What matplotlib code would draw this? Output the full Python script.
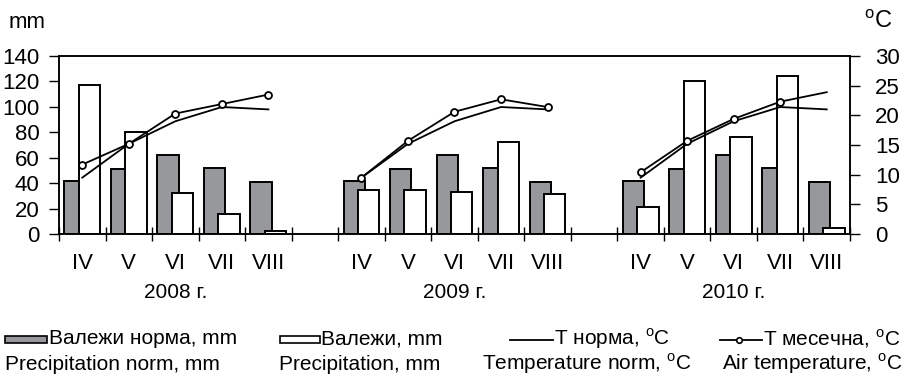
import numpy as np
import matplotlib
matplotlib.use("Agg")
import matplotlib.pyplot as plt
from matplotlib.patches import Rectangle
from matplotlib.lines import Line2D

plt.rcParams['font.family'] = ['Liberation Sans', 'DejaVu Sans']

# data
years = ['2008 г.', '2009 г.', '2010 г.']
months = ['IV', 'V', 'VI', 'VII', 'VIII']
prec_norm = [42, 51, 62, 52, 41]
prec = {
    '2008 г.': [117, 80, 32, 15.5, 2.5],
    '2009 г.': [35, 35, 33, 72.5, 31.5],
    '2010 г.': [21.5, 120, 76.5, 124.5, 4.7],
}
t_norm = [9.5, 15.2, 19.0, 21.4, 21.0]
t_month = {
    '2008 г.': [11.7, 15.2, 20.3, 21.9, 23.5],
    '2009 г.': [9.5, 15.7, 20.6, 22.7, 21.4],
    '2010 г.': [10.4, 15.7, 19.4, 22.3, 23.9],
}
mm_ticks = np.arange(0, 141, 20)
t_ticks = np.arange(0, 31, 5)

gray = '#97989b'
W, H = 915, 376
fig = plt.figure(figsize=(W / 100, H / 100), dpi=100)
ax = fig.add_axes([59 / W, 1 - 234 / H, (850 - 59) / W, (234 - 56) / H])
ax2 = ax.twinx()

bw = 0.46
centers = []
for k, y in enumerate(years):
    x = np.arange(5) + 6 * k + 0.5
    centers += list(x)
    ax.bar(x - 0.155, prec_norm, bw, color=gray, edgecolor='black', linewidth=1.4, zorder=2)
    ax.bar(x + 0.155, prec[y], bw, color='white', edgecolor='black', linewidth=1.4, zorder=3)
    ax2.plot(x, t_norm, color='black', lw=1.3)
    mk = [0, 1, 2, 3] if k == 2 else None
    ax2.plot(x, t_month[y], color='black', lw=1.3, marker='o', ms=5,
             mfc='white', mec='black', mew=1.3, markevery=mk)
    ax.text(x[2], -59 / 178, y, transform=ax.get_xaxis_transform(),
            ha='center', va='center', fontsize=15)

ax.set_xlim(0, 17)
ax.set_ylim(0, 140)
ax2.set_ylim(0, 30)
ax.set_yticks(mm_ticks)
ax2.set_yticks(t_ticks)
ax.set_xticks(np.arange(0, 18))
ax.set_xticklabels([])
ax.set_xticks(centers, minor=True)
ax.set_xticklabels(months * 3, minor=True, fontsize=16)
ax.tick_params(axis='x', which='major', direction='inout', length=10, width=1)
ax.tick_params(axis='x', which='minor', length=0, pad=14)
ax.tick_params(axis='y', labelsize=16, length=7, width=1, pad=7)
ax2.tick_params(axis='y', labelsize=16, length=7, width=1, pad=11)
for a in (ax, ax2):
    for s in a.spines.values():
        s.set_linewidth(1.1)

fig.text(9 / W, 1 - 22 / H, 'mm', fontsize=16, va='center', ha='left')
fig.text(878 / W, 1 - 22 / H, r'$^{\mathregular{o}}$C', fontsize=17, va='center', ha='center')

# legend, drawn by hand
fs = 15
y1, y2 = 1 - 339 / H, 1 - 364 / H
yh = 1 - 340 / H
fig.add_artist(Rectangle((5 / W, 1 - 343 / H), 42 / W, 7 / H, transform=fig.transFigure,
                         facecolor=gray, edgecolor='black', lw=1.2))
fig.text(49 / W, y1, 'Валежи норма, mm', fontsize=fs, va='center')
fig.text(5 / W, y2, 'Precipitation norm, mm', fontsize=fs, va='center')
fig.add_artist(Rectangle((280 / W, 1 - 343 / H), 40 / W, 7 / H, transform=fig.transFigure,
                         facecolor='white', edgecolor='black', lw=1.2))
fig.text(321 / W, y1, 'Валежи, mm', fontsize=fs, va='center')
fig.text(279 / W, y2, 'Precipitation, mm', fontsize=fs, va='center')
fig.add_artist(Line2D([510 / W, 553 / W], [yh, yh], transform=fig.transFigure,
                      color='black', lw=1.3))
fig.text(554 / W, y1, r'T норма, $^{\mathregular{o}}$C', fontsize=fs, va='center')
fig.text(482 / W, y2, r'Temperature norm, $^{\mathregular{o}}$C', fontsize=fs, va='center')
fig.add_artist(Line2D([720 / W, 762 / W], [yh, yh], transform=fig.transFigure,
                      color='black', lw=1.3))
fig.add_artist(Line2D([739 / W], [yh], transform=fig.transFigure, marker='o', ms=4,
                      mfc='white', mec='black', mew=1.2))
fig.text(763 / W, y1, r'T месечна, $^{\mathregular{o}}$C', fontsize=fs, va='center')
fig.text(722 / W, y2, r'Air temperature, $^{\mathregular{o}}$C', fontsize=fs, va='center')

fig.savefig('out.png', dpi=100)
